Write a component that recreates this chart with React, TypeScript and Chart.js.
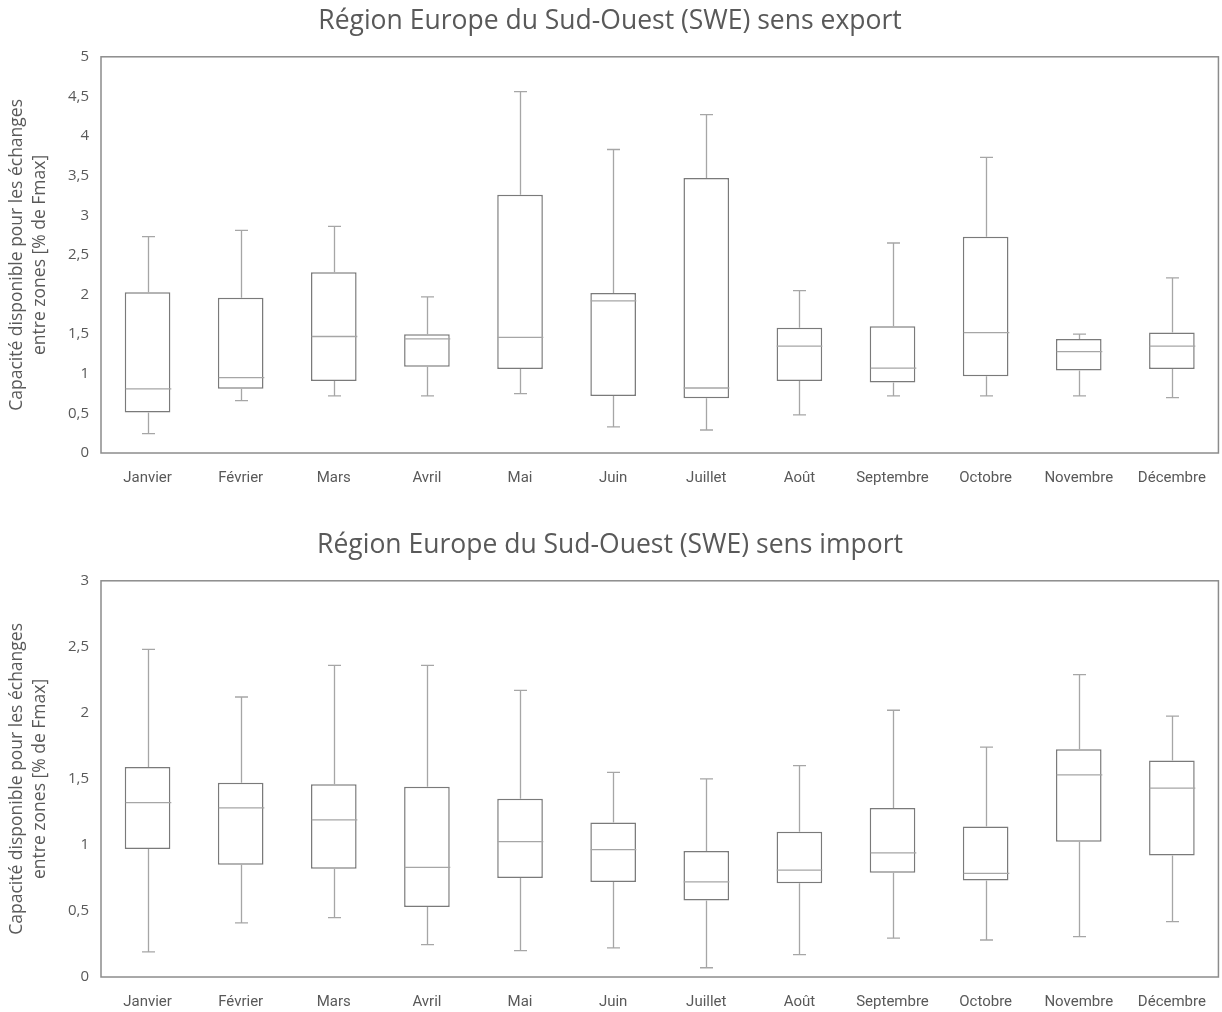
import React, { useEffect, useRef } from "react";
import { Chart, registerables } from "chart.js";

Chart.register(...registerables);

const MONTHS = ["Janvier", "Février", "Mars", "Avril", "Mai", "Juin", "Juillet", "Août", "Septembre", "Octobre", "Novembre", "Décembre"];

const EXPORT_MIN = [0.245, 0.66, 0.72, 0.72, 0.75, 0.33, 0.29, 0.48, 0.72, 0.72, 0.72, 0.7];
const EXPORT_Q1 = [0.51, 0.81, 0.91, 1.09, 1.06, 0.72, 0.69, 0.91, 0.89, 0.97, 1.04, 1.06];
const EXPORT_MEDIAN = [0.81, 0.95, 1.47, 1.44, 1.46, 1.92, 0.82, 1.35, 1.07, 1.52, 1.28, 1.35];
const EXPORT_Q3 = [2.03, 1.96, 2.28, 1.5, 3.26, 2.02, 3.47, 1.58, 1.6, 2.73, 1.44, 1.52];
const EXPORT_MAX = [2.73, 2.81, 2.86, 1.97, 4.56, 3.83, 4.27, 2.05, 2.65, 3.73, 1.5, 2.21];

const IMPORT_MIN = [0.19, 0.41, 0.45, 0.245, 0.2, 0.22, 0.07, 0.17, 0.295, 0.28, 0.305, 0.42];
const IMPORT_Q1 = [0.97, 0.85, 0.82, 0.53, 0.75, 0.72, 0.58, 0.71, 0.79, 0.73, 1.025, 0.92];
const IMPORT_MEDIAN = [1.32, 1.28, 1.19, 0.83, 1.025, 0.965, 0.72, 0.81, 0.94, 0.785, 1.53, 1.43];
const IMPORT_Q3 = [1.59, 1.47, 1.46, 1.44, 1.35, 1.17, 0.955, 1.1, 1.28, 1.14, 1.725, 1.64];
const IMPORT_MAX = [2.48, 2.12, 2.36, 2.36, 2.17, 1.55, 1.5, 1.6, 2.02, 1.74, 2.29, 1.975];

const EXPORT_TITLE = "Région Europe du Sud-Ouest (SWE) sens export";
const IMPORT_TITLE = "Région Europe du Sud-Ouest (SWE) sens import";
const Y_TITLE = ["Capacité disponible pour les échanges", "entre zones [% de Fmax]"];
const EXPORT_Y_MAX = 5;
const IMPORT_Y_MAX = 3;
const Y_STEP = 0.5;

const TEXT = "#595959";
const FONT = "'Open Sans', 'Noto Sans', sans-serif";
const LABEL_FONT = "Roboto, 'Open Sans', sans-serif";

type Stats = { min: number[]; q1: number[]; med: number[]; q3: number[]; max: number[] };

const boxPlugin = {
  id: "boxExtras",
  afterDatasetsDraw(chart: any) {
    const stats: Stats = chart.options.plugins.boxExtras.stats;
    const x = chart.scales.x;
    const y = chart.scales.y;
    const ctx = chart.ctx;
    const meta = chart.getDatasetMeta(0);
    ctx.save();
    stats.min.forEach((_, i) => {
      const cx = Math.round(x.getPixelForValue(i)) + 0.5;
      const bar = meta.data[i];
      const half = bar ? bar.width / 2 : 23;
      const cap = 6.5;
      const pMin = y.getPixelForValue(stats.min[i]);
      const pQ1 = y.getPixelForValue(stats.q1[i]);
      const pMed = y.getPixelForValue(stats.med[i]);
      const pQ3 = y.getPixelForValue(stats.q3[i]);
      const pMax = y.getPixelForValue(stats.max[i]);
      ctx.strokeStyle = "#a6a6a6";
      ctx.lineWidth = 1.3;
      ctx.beginPath();
      ctx.moveTo(cx, pQ3);
      ctx.lineTo(cx, pMax);
      ctx.moveTo(cx - cap, pMax);
      ctx.lineTo(cx + cap, pMax);
      ctx.moveTo(cx, pQ1);
      ctx.lineTo(cx, pMin);
      ctx.moveTo(cx - cap, pMin);
      ctx.lineTo(cx + cap, pMin);
      ctx.moveTo(cx - half, pMed);
      ctx.lineTo(cx + half, pMed);
      ctx.stroke();
    });
    const a = chart.chartArea;
    ctx.strokeStyle = "#8c8c8c";
    ctx.lineWidth = 1.5;
    ctx.strokeRect(a.left, a.top, a.right - a.left, a.bottom - a.top);
    ctx.restore();
  },
};

function BoxChart({ title, stats, yMax }: { title: string; stats: Stats; yMax: number }) {
  const ref = useRef<HTMLCanvasElement>(null);
  useEffect(() => {
    if (!ref.current) return;
    const chart = new Chart(ref.current, {
      type: "bar",
      data: {
        labels: MONTHS,
        datasets: [
          {
            data: stats.q1.map((v, i) => [v, stats.q3[i]]) as any,
            backgroundColor: "#ffffff",
            borderColor: "#7a7a7a",
            borderWidth: 1.5,
            borderSkipped: false,
            categoryPercentage: 1,
            barPercentage: 0.49,
          },
        ],
      },
      options: {
        responsive: false,
        animation: false,
        layout: { padding: { left: 0, right: 2, top: 0, bottom: 0 } },
        plugins: {
          legend: { display: false },
          tooltip: { enabled: false },
          title: {
            display: true,
            text: title,
            color: TEXT,
            font: { size: 26.5, family: FONT, weight: "normal" },
            padding: { top: 6, bottom: 19 },
          },
          boxExtras: { stats },
        } as any,
        scales: {
          x: {
            grid: { display: false, drawTicks: false },
            border: { display: false },
            ticks: { color: TEXT, font: { size: 15, family: LABEL_FONT }, padding: 16, maxRotation: 0, autoSkip: false },
            afterFit: (s: any) => {
              s.height = 35;
            },
          },
          y: {
            min: 0,
            max: yMax,
            grid: { display: false, drawTicks: false },
            border: { display: false },
            ticks: {
              stepSize: Y_STEP,
              color: TEXT,
              font: { size: 15, family: FONT },
              padding: 12,
              callback: (v: any) => String(v).replace(".", ","),
            },
            title: {
              display: true,
              text: Y_TITLE,
              color: TEXT,
              font: { size: 17.5, family: FONT, lineHeight: 1.31 },
              padding: { top: 6, bottom: 0 },
            },
            afterFit: (s: any) => {
              s.width = 101;
            },
          },
        },
      },
      plugins: [boxPlugin],
    });
    return () => chart.destroy();
  }, []);
  return <canvas ref={ref} width={1222} height={488} style={{ display: "block", width: 1222, height: 488 }} />;
}

export default function App() {
  useEffect(() => {
    document.body.style.margin = "0";
  }, []);
  return (
    <div style={{ position: "relative", width: 1222, height: 1012, background: "#fff" }}>
      <div style={{ position: "absolute", left: 0, top: 0 }}>
        <BoxChart
          title={EXPORT_TITLE}
          yMax={EXPORT_Y_MAX}
          stats={{ min: EXPORT_MIN, q1: EXPORT_Q1, med: EXPORT_MEDIAN, q3: EXPORT_Q3, max: EXPORT_MAX }}
        />
      </div>
      <div style={{ position: "absolute", left: 0, top: 524 }}>
        <BoxChart
          title={IMPORT_TITLE}
          yMax={IMPORT_Y_MAX}
          stats={{ min: IMPORT_MIN, q1: IMPORT_Q1, med: IMPORT_MEDIAN, q3: IMPORT_Q3, max: IMPORT_MAX }}
        />
      </div>
    </div>
  );
}
